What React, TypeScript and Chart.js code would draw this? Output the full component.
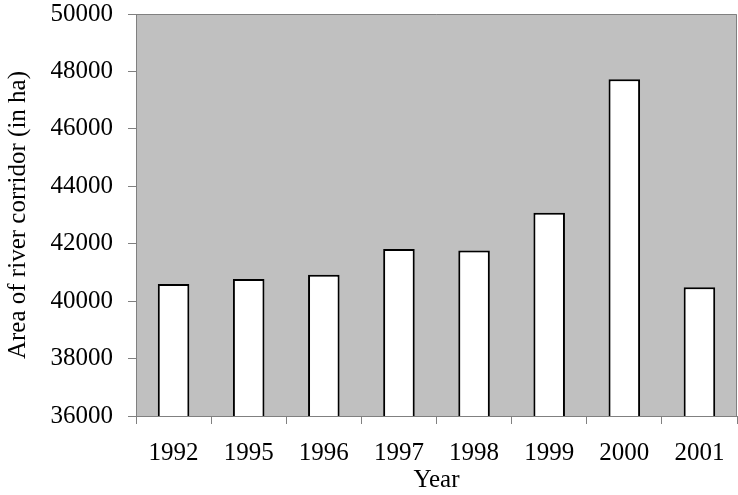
import React, { useEffect, useRef } from "react";
import { Chart, registerables } from "chart.js";

Chart.register(...registerables);

const categories = ["1992", "1995", "1996", "1997", "1998", "1999", "2000", "2001"];
const areaValues = [40600, 40770, 40920, 41820, 41760, 43080, 47730, 40480];
const yMin = 36000;
const yMax = 50000;
const yStep = 2000;

const FONT = "'Liberation Serif', 'Times New Roman', serif";
const FS = 25;

const plotBg = {
  id: "plotBg",
  beforeDraw(chart: any) {
    const { ctx, chartArea } = chart;
    if (!chartArea) return;
    ctx.save();
    ctx.fillStyle = "#C0C0C0";
    ctx.fillRect(chartArea.left, chartArea.top, chartArea.right - chartArea.left, chartArea.bottom - chartArea.top);
    ctx.restore();
  },
  afterDraw(chart: any) {
    const { ctx, chartArea } = chart;
    ctx.save();
    ctx.strokeStyle = "#808080";
    ctx.lineWidth = 1;
    ctx.beginPath();
    ctx.moveTo(chartArea.left, chartArea.top + 0.5);
    ctx.lineTo(chartArea.right - 0.5, chartArea.top + 0.5);
    ctx.lineTo(chartArea.right - 0.5, chartArea.bottom);
    ctx.stroke();
    ctx.restore();
  },
};

export default function App() {
  const ref = useRef<HTMLCanvasElement | null>(null);

  useEffect(() => {
    if (!ref.current) return;
    const chart = new Chart(ref.current, {
      type: "bar",
      data: {
        labels: categories,
        datasets: [
          {
            data: areaValues,
            backgroundColor: "#FFFFFF",
            borderColor: "#000000",
            borderWidth: 2,
            barPercentage: 0.42,
            categoryPercentage: 1,
          },
        ],
      },
      options: {
        animation: false,
        responsive: false,
        devicePixelRatio: 1,
        layout: { padding: { top: 14, right: 1, left: 0, bottom: 0 } },
        plugins: {
          legend: { display: false },
          tooltip: { enabled: false },
        },
        scales: {
          x: {
            grid: {
              offset: true,
              drawOnChartArea: false,
              drawTicks: true,
              tickLength: 8,
              color: "#808080",
            },
            border: { color: "#808080", width: 1 },
            ticks: {
              color: "#000000",
              font: { family: FONT, size: FS },
              padding: 14,
              maxRotation: 0,
            },
            title: {
              display: true,
              text: "Year",
              color: "#000000",
              font: { family: FONT, size: FS },
              padding: { top: 0, bottom: 0 },
            },
            afterFit(scale: any) {
              scale.height = 79;
              scale.paddingLeft = 0;
              scale.paddingRight = 0;
            },
          },
          y: {
            min: yMin,
            max: yMax,
            grid: {
              drawOnChartArea: false,
              drawTicks: true,
              tickLength: 8,
              color: "#808080",
            },
            border: { color: "#808080", width: 1 },
            ticks: {
              stepSize: yStep,
              color: "#000000",
              font: { family: FONT, size: FS },
              padding: 15,
              callback: (v: any) => String(v),
            },
            title: {
              display: true,
              text: "Area of river corridor (in ha)",
              color: "#000000",
              font: { family: FONT, size: FS },
              padding: { top: 3, bottom: 0 },
            },
            afterFit(scale: any) {
              scale.width = 136;
              scale.paddingTop = 0;
              scale.paddingBottom = 0;
            },
          },
        },
      },
      plugins: [plotBg],
    });
    return () => chart.destroy();
  }, []);

  return (
    <div style={{ position: "fixed", left: 0, top: 0, width: 738, height: 495, background: "#FFFFFF" }}>
      <canvas ref={ref} width={738} height={495} style={{ display: "block", width: 738, height: 495 }} />
    </div>
  );
}
